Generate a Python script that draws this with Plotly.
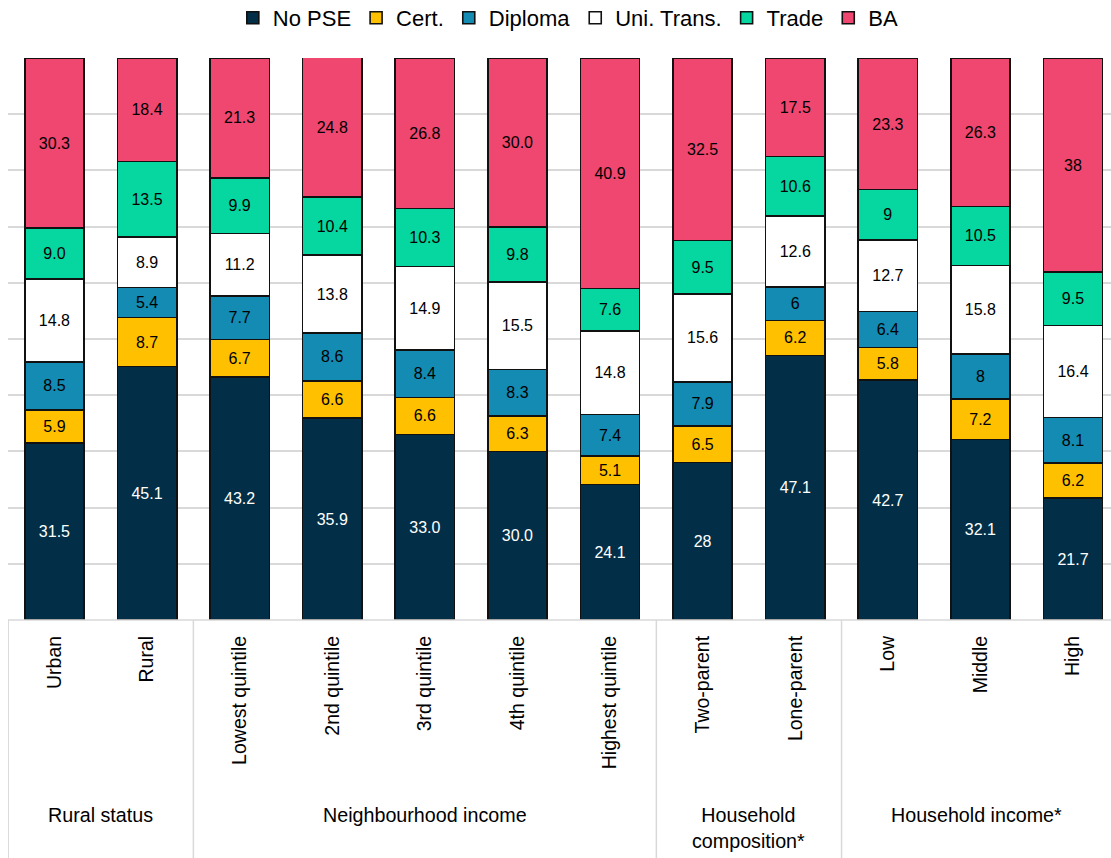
import plotly.graph_objects as go

# Categories along the x axis, grouped
categories = ["Urban", "Rural", "Lowest quintile", "2nd quintile", "3rd quintile",
              "4th quintile", "Highest quintile", "Two-parent", "Lone-parent",
              "Low", "Middle", "High"]
groups = ["Rural status", "Neighbourhood income", "Household<br>composition*", "Household income*"]
group_bounds = [(-0.5, 1.5), (1.5, 6.5), (6.5, 8.5), (8.5, 11.41)]

# Shares (%) by education outcome, stacked bottom to top
no_pse = ["31.5", "45.1", "43.2", "35.9", "33.0", "30.0", "24.1", "28", "47.1", "42.7", "32.1", "21.7"]
cert = ["5.9", "8.7", "6.7", "6.6", "6.6", "6.3", "5.1", "6.5", "6.2", "5.8", "7.2", "6.2"]
diploma = ["8.5", "5.4", "7.7", "8.6", "8.4", "8.3", "7.4", "7.9", "6", "6.4", "8", "8.1"]
uni_trans = ["14.8", "8.9", "11.2", "13.8", "14.9", "15.5", "14.8", "15.6", "12.6", "12.7", "15.8", "16.4"]
trade = ["9.0", "13.5", "9.9", "10.4", "10.3", "9.8", "7.6", "9.5", "10.6", "9", "10.5", "9.5"]
ba = ["30.3", "18.4", "21.3", "24.8", "26.8", "30.0", "40.9", "32.5", "17.5", "23.3", "26.3", "38"]

series = [
    ("No PSE", no_pse, "#022F47", "white"),
    ("Cert.", cert, "#FFC000", "black"),
    ("Diploma", diploma, "#138BB3", "black"),
    ("Uni. Trans.", uni_trans, "#FFFFFF", "black"),
    ("Trade", trade, "#06D6A0", "black"),
    ("BA", ba, "#EF476F", "black"),
]

FONT = "Liberation Sans, Arial, sans-serif"
x_pos = list(range(len(categories)))

fig = go.Figure()
for name, vals, color, txtcolor in series:
    fig.add_trace(go.Bar(
        name=name,
        x=x_pos,
        y=[float(v) for v in vals],
        text=vals,
        texttemplate="%{text}",
        textposition="inside",
        insidetextanchor="middle",
        textangle=0,
        textfont=dict(family=FONT, size=16, color=txtcolor),
        marker=dict(color=color, line=dict(color="#111111", width=1.6)),
        width=0.64,
        hoverinfo="skip",
    ))

# Group separator lines below the plot and group titles
plot_h = 562
below = -238 / plot_h
shapes = []
for xb in [-0.5, 1.5, 6.5, 8.5]:
    shapes.append(dict(type="line", xref="x", yref="paper", x0=xb, x1=xb, y0=0, y1=below,
                       line=dict(color="#d9d9d9", width=1.5)))
shapes.append(dict(type="line", xref="paper", yref="paper", x0=0, x1=1, y0=0, y1=0,
                   line=dict(color="#d9d9d9", width=1.5)))

annotations = []
for g, (a, b) in zip(groups, group_bounds):
    annotations.append(dict(text=g, x=(a + b) / 2, xref="x", y=-182 / plot_h, yref="paper",
                            xanchor="center", yanchor="top", showarrow=False,
                            font=dict(family=FONT, size=19.7, color="black")))

fig.update_layout(
    barmode="stack",
    width=1111, height=858,
    margin=dict(l=8, r=0, t=58, b=238, autoexpand=False),
    plot_bgcolor="white", paper_bgcolor="white",
    shapes=shapes,
    annotations=annotations,
    uniformtext=dict(minsize=16, mode="show"),
    legend=dict(orientation="h", x=0.508, xanchor="center", y=(620 - 18) / plot_h, yanchor="middle",
                font=dict(family=FONT, size=22, color="black"), itemwidth=30,
                traceorder="normal", tracegroupgap=0),
    xaxis=dict(range=[-0.502, 11.41], tickmode="array", tickvals=x_pos, ticktext=categories,
               tickangle=-90, ticks="", ticklabelstandoff=11, showgrid=False, zeroline=False,
               tickfont=dict(family=FONT, size=19.5, color="black"), fixedrange=True),
    yaxis=dict(range=[0, 100], dtick=10, showticklabels=False, showgrid=True,
               gridcolor="#d9d9d9", gridwidth=1.5, zeroline=False, fixedrange=True),
    showlegend=True,
)

fig.write_html("out.html")
